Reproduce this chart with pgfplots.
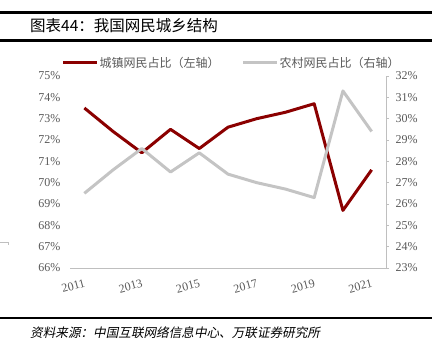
\documentclass[border=0pt]{standalone}
\usepackage{pgfplots}
\pgfplotsset{compat=1.18}
\usepackage{fontspec}
\setmainfont{Liberation Serif}
\newfontfamily\cjk{Noto Sans CJK SC}
\newfontfamily\cjkit[FakeSlant=0.2]{Noto Sans CJK SC}
\definecolor{dred}{HTML}{8B0000}
\definecolor{lgray}{HTML}{C4C4C4}
\definecolor{agray}{HTML}{BFBFBF}
\definecolor{tgray}{HTML}{595959}
\begin{document}
\begin{tikzpicture}[x=1pt,y=1pt]
\path[use as bounding box] (0,0) rectangle (439,354);
% title bars
\draw[line width=2.5pt] (0,341.5) -- (432,341.5);
\draw[line width=2.5pt] (0,313.5) -- (432,313.5);
\node[anchor=west, inner sep=0pt, font=\cjk\fontsize{15.5}{17}\selectfont] at (30,328) {图表44：我国网民城乡结构};
% source
\draw[line width=2.5pt] (0,36) -- (432,36);
\node[anchor=west, inner sep=0pt, font=\cjkit\fontsize{12.6}{14}\selectfont] at (30,21) {资料来源：中国互联网络信息中心、万联证券研究所};
% stray fragment
\draw[agray, line width=0.6pt] (0,112) -- (8,112) -- (8,109);
% legend
\draw[dred, line width=3pt] (63,291.3) -- (97,291.3);
\node[anchor=west, inner sep=0pt, text=tgray, font=\cjk\fontsize{12}{14}\selectfont] at (99.5,291.3) {城镇网民占比（左轴）};
\draw[lgray, line width=3pt] (243,291.3) -- (277,291.3);
\node[anchor=west, inner sep=0pt, text=tgray, font=\cjk\fontsize{12}{14}\selectfont] at (279.5,291.3) {农村网民占比（右轴）};

\begin{axis}[
  at={(70pt,86pt)}, anchor=south west, scale only axis,
  width=316pt, height=192pt,
  xmin=10.5, xmax=21.5, ymin=66, ymax=75,
  axis y line*=left, axis x line*=bottom,
  y axis line style={draw=none},
  x axis line style={agray, line width=0.8pt},
  /pgf/number format/assume math mode=true,
  ytick={66,67,...,75},
  yticklabel={\pgfmathprintnumber[fixed,precision=0]{\tick}\%},
  yticklabel style={text=tgray, font=\fontsize{12}{14}\selectfont, xshift=-6pt},
  ytick style={draw=none},
  xtick={11,13,15,17,19,21},
  xticklabels={2011,2013,2015,2017,2019,2021},
  xtick style={draw=none},
  xticklabel style={text=tgray, font=\fontsize{12}{14}\selectfont, rotate=15, anchor=north east, xshift=0pt, yshift=-7pt},
  extra x ticks={10.5,11.5,...,21.5},
  extra x tick labels={},
  extra x tick style={tick align=outside, major tick length=3pt, tick style={agray, line width=0.6pt}},
  clip=false,
]
\addplot[dred, line width=3pt, line join=round] coordinates {
 (11,73.5) (12,72.4) (13,71.4) (14,72.5) (15,71.6) (16,72.6) (17,73.0) (18,73.3) (19,73.7) (20,68.7) (21,70.6)
};
\end{axis}

\begin{axis}[
  at={(70pt,86pt)}, anchor=south west, scale only axis,
  width=316pt, height=192pt,
  xmin=10.5, xmax=21.5, ymin=23, ymax=32,
  axis y line*=right, axis x line=none,
  y axis line style={agray, line width=0.8pt},
  /pgf/number format/assume math mode=true,
  ytick={23,24,...,32},
  yticklabel={\pgfmathprintnumber[fixed,precision=0]{\tick}\%},
  yticklabel style={text=tgray, font=\fontsize{12}{14}\selectfont, xshift=3pt},
  ytick style={agray, line width=0.6pt},
  tick align=outside, major tick length=3pt,
  clip=false,
]
\addplot[lgray, line width=3pt, line join=round] coordinates {
 (11,26.5) (12,27.6) (13,28.6) (14,27.5) (15,28.4) (16,27.4) (17,27.0) (18,26.7) (19,26.3) (20,31.3) (21,29.4)
};
\end{axis}
\end{tikzpicture}
\end{document}
